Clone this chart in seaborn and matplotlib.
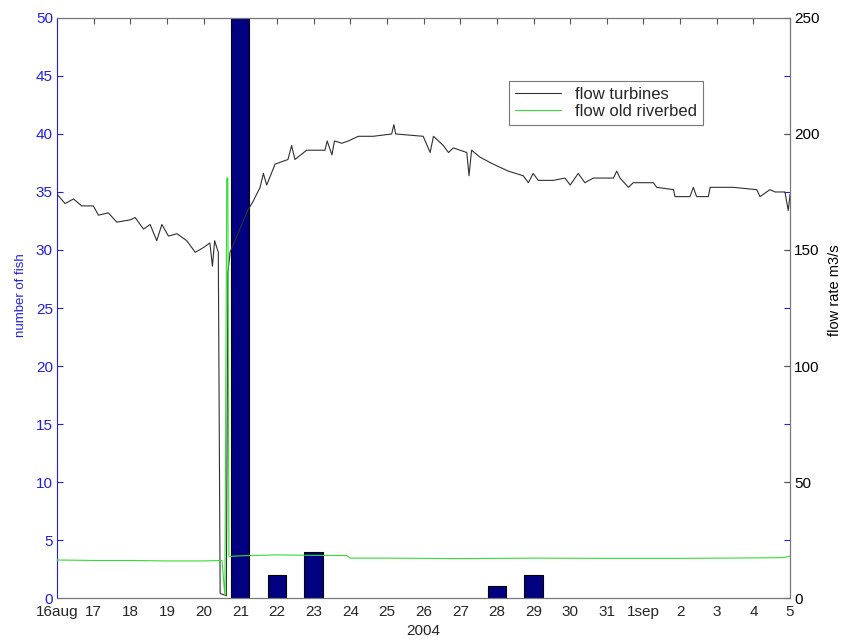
import numpy as np
import pandas as pd
import matplotlib
matplotlib.use('Agg')
import matplotlib.pyplot as plt
import seaborn as sns

# fish counts per day (day counted from 1 Aug, 32 = 1 sep)
fish_day = [21, 22, 23, 28, 29]
fish_count = [60, 2, 4, 1, 2]

# flow through turbines (m3/s)
turb_day = [16.0, 16.22, 16.45, 16.67, 16.99, 17.13, 17.4, 17.63, 18.0, 18.13, 18.36, 18.54,
            18.72, 18.86, 19.04, 19.27, 19.54, 19.77, 19.99, 20.17, 20.24, 20.3, 20.4,
            20.45, 20.62, 20.66, 20.72, 21.2, 21.35, 21.54, 21.63, 21.72, 21.95, 22.3, 22.4,
            22.49, 22.81, 23.31, 23.37, 23.5, 23.57, 23.77, 23.95, 24.22, 24.63, 25.13, 25.19,
            25.24, 25.99, 26.18, 26.27, 26.54, 26.68, 26.81, 27.18, 27.24, 27.31, 27.54, 27.9,
            28.31, 28.72, 28.86, 28.99, 29.13, 29.54, 29.86, 30.0, 30.22, 30.4, 30.63, 31.18,
            31.27, 31.36, 31.59, 31.72, 32.27, 32.36, 32.82, 32.86, 33.27, 33.36, 33.45, 33.77,
            33.82, 34.45, 35.09, 35.18, 35.45, 35.59, 35.86, 35.95, 36.0]
turb_flow = [174, 170, 172, 169, 169, 165, 166, 162, 163, 164, 159, 161,
             154, 161, 156, 157, 154, 149, 151, 153, 143, 154, 149,
             2, 1, 140, 149, 167, 171, 177, 183, 178, 187, 189, 195,
             189, 193, 193, 197, 191, 197, 196, 197, 199, 199, 200, 204,
             200, 199, 192, 199, 195, 192, 194, 192, 182, 193, 190, 187,
             184, 182, 179, 183, 180, 180, 181, 178, 183, 179, 181, 181,
             184, 181, 177, 179, 179, 177, 176, 173, 173, 177, 173, 173,
             177, 177, 176, 173, 176, 175, 175, 167, 174]

# flow through old riverbed (m3/s)
river_day = [16.0, 17.0, 18.0, 19.0, 20.0, 20.5, 20.58, 20.63, 20.66, 20.69, 20.75, 21.0,
             22.0, 23.0, 23.9, 24.0, 25.0, 27.0, 29.0, 31.0, 33.0, 35.0, 35.8, 36.0]
river_flow = [16.4, 16.2, 16.2, 16.0, 16.0, 16.2, 1, 181, 181, 18, 18, 18.2,
              18.6, 18.4, 18.3, 17.2, 17.2, 17.0, 17.2, 17.1, 17.1, 17.3, 17.4, 18.0]

xtick_pos = list(range(16, 37))
xtick_lab = ['16aug'] + [str(d) for d in range(17, 32)] + ['1sep', '2', '3', '4', '5']

sns.set_style('white')
plt.rcParams['font.family'] = ['Liberation Sans', 'DejaVu Sans']

fish_blue = '#2020e0'

fig = plt.figure(figsize=(8.45, 6.41), dpi=100)
ax1 = fig.add_axes([0.0675, 0.067, 0.8675, 0.905])
ax2 = ax1.twinx()

bars = pd.DataFrame({'day': fish_day, 'fish': fish_count})
sns.barplot(data=bars, x='day', y='fish', native_scale=True, width=0.5,
            color='#000080', saturation=1, edgecolor='black', linewidth=0.8, ax=ax1)

turb = pd.DataFrame({'day': turb_day, 'flow': turb_flow})
river = pd.DataFrame({'day': river_day, 'flow': river_flow})
sns.lineplot(data=turb, x='day', y='flow', sort=False, estimator=None,
             color='#303030', linewidth=0.8, label='flow turbines', ax=ax2)
sns.lineplot(data=river, x='day', y='flow', sort=False, estimator=None,
             color='#33dd33', linewidth=0.8, label='flow old riverbed', ax=ax2)

ax1.set_xlim(16, 36)
ax1.set_ylim(0, 50)
ax2.set_ylim(0, 250)
ax1.set_xticks(xtick_pos)
ax1.set_xticklabels(xtick_lab, fontsize=11)
ax1.set_yticks(range(0, 51, 5))
ax1.set_yticklabels([str(v) for v in range(0, 51, 5)], fontsize=11, color=fish_blue)
ax2.set_yticks(range(0, 251, 50))
ax2.set_yticklabels([str(v) for v in range(0, 251, 50)], fontsize=11, color='black')

ax1.tick_params(axis='x', direction='in', top=True, length=4, color='#555555', pad=5)
ax1.tick_params(axis='y', direction='in', right=True, length=4, color=fish_blue, pad=3)
ax2.tick_params(axis='y', direction='in', length=4, color='#555555', pad=3)

ax1.set_xlabel('2004', fontsize=11)
ax1.xaxis.set_label_coords(0.5, -0.045)
ax1.set_ylabel('number of fish', fontsize=9.5, color=fish_blue)
ax1.yaxis.set_label_coords(-0.041, 0.522)
ax2.set_ylabel('flow rate m3/s', fontsize=10.5, color='black')
ax2.yaxis.set_label_coords(1.052, 0.53)

for ax in (ax1, ax2):
    for s in ax.spines.values():
        s.set_color('#777777')
        s.set_linewidth(0.8)
ax1.spines['left'].set_color(fish_blue)
ax2.spines['left'].set_visible(False)
ax1.grid(False)
ax2.grid(False)

leg = ax2.legend(loc='upper left', bbox_to_anchor=(0.605, 0.905), fontsize=12,
                 frameon=True, fancybox=False, handlelength=2.8, borderpad=0.35,
                 labelspacing=0.1, handletextpad=0.8)
leg.get_frame().set_edgecolor('#555555')
leg.get_frame().set_linewidth(0.8)

fig.savefig('out.png', dpi=100)
